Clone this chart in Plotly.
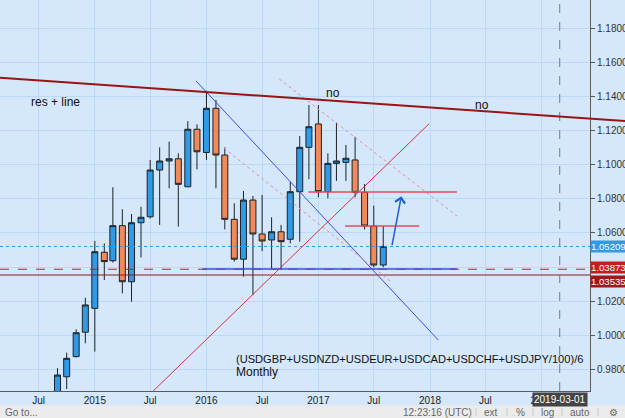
import plotly.graph_objects as go
import pandas as pd

# ---------------- data ----------------
months = pd.date_range("2014-09-01", periods=36, freq="MS")
opens = [0.9620, 0.9757, 0.9875, 1.0018, 1.0158, 1.0487, 1.0437, 1.0643, 1.0314, 1.0660,
         1.0695, 1.0969, 1.1022, 1.1035, 1.0871, 1.1208, 1.1072, 1.1331, 1.1057, 1.0680,
         1.0446, 1.0793, 1.0594, 1.0559, 1.0607, 1.0563, 1.0842, 1.1102, 1.1239, 1.0842,
         1.1008, 1.1014, 1.1028, 1.0838, 1.0641, 1.0412]
highs = [0.9807, 0.9898, 1.0035, 1.0220, 1.0553, 1.0539, 1.0868, 1.0739, 1.0711, 1.0754,
         1.1028, 1.1102, 1.1135, 1.1067, 1.1256, 1.1237, 1.1434, 1.1380, 1.1102, 1.0774,
         1.0846, 1.0817, 1.0823, 1.0692, 1.0647, 1.0900, 1.1168, 1.1350, 1.1350, 1.1067,
         1.1247, 1.1116, 1.1164, 1.0887, 1.0760, 1.0641]
lows = [0.9600, 0.9685, 0.9870, 0.9953, 0.9904, 1.0324, 1.0426, 1.0246, 1.0197, 1.0457,
        1.0684, 1.0647, 1.0862, 1.0637, 1.0868, 1.0973, 1.1028, 1.0862, 1.0621, 1.0432,
        1.0344, 1.0236, 1.0494, 1.0393, 1.0383, 1.0539, 1.0549, 1.0915, 1.0809, 1.0803,
        1.0905, 1.0905, 1.0809, 1.0621, 1.0399, 1.0399]
closes = [0.9767, 0.9865, 1.0015, 1.0178, 1.0490, 1.0432, 1.0643, 1.0314, 1.0660, 1.0692,
          1.0969, 1.1022, 1.1035, 1.0885, 1.1208, 1.1076, 1.1331, 1.1057, 1.0680, 1.0446,
          1.0793, 1.0594, 1.0553, 1.0607, 1.0549, 1.0842, 1.1102, 1.1223, 1.0842, 1.1008,
          1.1022, 1.1038, 1.0838, 1.0641, 1.0412, 1.05209]

last_price = 1.05209
red_dash_price = 1.03873
red_solid_price = 1.03535

y_ticks = [0.96, 0.98, 1.00, 1.02, 1.04, 1.06, 1.08, 1.10, 1.12, 1.14, 1.16, 1.18, 1.20]
x_tickvals = ["2014-07-01", "2015-01-01", "2015-07-01", "2016-01-01", "2016-07-01",
              "2017-01-01", "2017-07-01", "2018-01-01", "2018-07-01", "2019-01-01"]
x_ticktext = ["Jul", "2015", "Jul", "2016", "Jul", "2017", "Jul", "2018", "Jul", "2019"]
cursor_date = "2019-03-01"

x_range = ["2014-02-25", "2019-06-08"]
y_range = [0.96734, 1.19659]

# drawn trend lines: (x0, y0, x1, y1, color, width, dash)
trend_lines = [
    ("2015-11-28", 1.1491, "2018-01-28", 0.99724, "#3b4ee4", 1, "solid"),
    ("2016-08-26", 1.15027, "2018-03-30", 1.06995, "#e98a9c", 1, "dot"),
    ("2016-02-27", 1.10982, "2017-08-29", 1.03107, "#e98a9c", 1, "dot"),
    ("2015-07-11", 0.96734, "2017-12-29", 1.12406, "#d8323c", 1, "solid"),
    ("2016-11-29", 1.0840, "2018-03-30", 1.0840, "#ef4a58", 1.5, "solid"),
    ("2017-03-29", 1.0641, "2017-11-27", 1.0641, "#ef4a58", 1.5, "solid"),
    ("2015-12-18", 1.0389, "2018-03-30", 1.0389, "#3b4ee4", 1.5, "solid"),
]
res_line = ("2014-02-25", 1.15103, "2019-10-01", 1.12565)
arrow = ("2017-08-29", 1.05195, "2017-09-29", 1.0815)

BG = "#d4e7fb"
GRID = "#bcd8f5"
FONT = "Liberation Sans, Arial, sans-serif"

fig = go.Figure()
fig.add_trace(go.Candlestick(
    x=months, open=opens, high=highs, low=lows, close=closes,
    increasing=dict(fillcolor="#2f9ae6", line=dict(color="#1c2326", width=1)),
    decreasing=dict(fillcolor="#f08a5b", line=dict(color="#1c2326", width=1)),
    whiskerwidth=0, showlegend=False, hoverinfo="skip",
))

t0 = pd.Timestamp(x_range[0]).value
t1 = pd.Timestamp(x_range[1]).value


def to_paper(d):
    return (pd.Timestamp(d).value - t0) / (t1 - t0)


shapes = []
# price lines
shapes.append(dict(type="line", xref="paper", yref="y", x0=0, x1=1, y0=last_price, y1=last_price,
                   line=dict(color="#2f9ae6", width=1, dash="dot")))
shapes.append(dict(type="line", xref="paper", yref="y", x0=0, x1=1, y0=red_dash_price, y1=red_dash_price,
                   line=dict(color="#b3262b", width=1, dash="dash")))
shapes.append(dict(type="line", xref="paper", yref="y", x0=0, x1=1, y0=red_solid_price, y1=red_solid_price,
                   line=dict(color="#8e1a1a", width=1.2)))
# vertical cursor line
shapes.append(dict(type="line", xref="x", yref="paper", x0=cursor_date, x1=cursor_date, y0=0, y1=1,
                   line=dict(color="#7a7a7a", width=1, dash="dash")))
for (xa, ya, xb, yb, col, w, dash) in trend_lines:
    shapes.append(dict(type="line", xref="x", yref="y", x0=xa, y0=ya, x1=xb, y1=yb,
                       line=dict(color=col, width=w, dash=dash)))
# resistance line (extends over the price scale)
shapes.append(dict(type="line", xref="paper", yref="y",
                   x0=to_paper(res_line[0]), y0=res_line[1], x1=to_paper(res_line[2]), y1=res_line[3],
                   line=dict(color="#991414", width=2)))

# bottom toolbar
H = 391.0
def py(p):
    return (H - p) / H

shapes.append(dict(type="rect", xref="paper", yref="paper", x0=-0.01, x1=1.07, y0=py(405.5), y1=py(419),
                   fillcolor="#ebebeb", line=dict(width=0), layer="above"))
for sx in [476, 507, 533, 562, 598]:
    shapes.append(dict(type="line", xref="paper", yref="paper", x0=sx / 590, x1=sx / 590,
                       y0=py(408), y1=py(416), line=dict(color="#c9c9c9", width=1), layer="above"))

annotations = []
annotations.append(dict(text="res + line", xref="paper", yref="paper", x=29 / 590, y=py(102),
                        xanchor="left", yanchor="middle", showarrow=False,
                        font=dict(family=FONT, size=12, color="#111")))
annotations.append(dict(text="no", xref="paper", yref="paper", x=333 / 590, y=py(93),
                        xanchor="center", yanchor="middle", showarrow=False,
                        font=dict(family=FONT, size=12, color="#111")))
annotations.append(dict(text="no", xref="paper", yref="paper", x=482 / 590, y=py(105),
                        xanchor="center", yanchor="middle", showarrow=False,
                        font=dict(family=FONT, size=12, color="#111")))
annotations.append(dict(text="(USDGBP+USDNZD+USDEUR+USDCAD+USDCHF+USDJPY/100)/6", xref="paper", yref="paper",
                        x=234 / 590, y=py(358.5), xanchor="left", yanchor="middle", showarrow=False,
                        font=dict(family=FONT, size=11.1, color="#111")))
annotations.append(dict(text="Monthly", xref="paper", yref="paper",
                        x=234 / 590, y=py(371.5), xanchor="left", yanchor="middle", showarrow=False,
                        font=dict(family=FONT, size=12, color="#111")))
# arrow
annotations.append(dict(text="", x=arrow[2], y=arrow[3], ax=arrow[0], ay=arrow[1], xref="x", yref="y",
                        axref="x", ayref="y", showarrow=True, arrowhead=4, arrowsize=1.3,
                        arrowwidth=1.5, arrowcolor="#1f5fd4"))
# price labels on scale
for (val, bg, shift) in [(last_price, "#2f9ae6", 0), (red_dash_price, "#c41d1d", 2), (red_solid_price, "#9b1b1b", -6)]:
    annotations.append(dict(text=f"{val:.5f}", xref="paper", yref="y", x=1.0, y=val, yshift=shift,
                            xanchor="left", yanchor="middle", showarrow=False, bgcolor=bg,
                            borderpad=0, font=dict(family=FONT, size=9.6, color="white")))
# cursor date label
annotations.append(dict(text=cursor_date, xref="x", yref="paper", x=cursor_date, y=py(399.5),
                        xanchor="center", yanchor="middle", showarrow=False, bgcolor="#444444",
                        borderpad=1, font=dict(family=FONT, size=10, color="white")))
# toolbar texts
annotations.append(dict(text="Go to...", xref="paper", yref="paper", x=3 / 590, y=py(412.5),
                        xanchor="left", yanchor="middle", showarrow=False,
                        font=dict(family=FONT, size=10, color="#666")))
for (txt, cx) in [("12:23:16 (UTC)", 437), ("ext", 491), ("%", 520), ("log", 547.5), ("auto", 580), ("\u2699", 613.5)]:
    annotations.append(dict(text=txt, xref="paper", yref="paper", x=cx / 590, y=py(412.5),
                            xanchor="center", yanchor="middle", showarrow=False,
                            font=dict(family=FONT, size=10, color="#666")))

fig.update_layout(
    width=625, height=418,
    margin=dict(l=0, r=35, t=0, b=27, pad=0, autoexpand=False),
    paper_bgcolor=BG, plot_bgcolor=BG,
    font=dict(family=FONT, size=10, color="#333"),
    shapes=shapes, annotations=annotations,
    showlegend=False,
    boxgap=0.0, boxgroupgap=0.3,
    xaxis=dict(type="date", range=x_range, tickvals=x_tickvals, ticktext=x_ticktext,
               showgrid=True, gridcolor=GRID, gridwidth=1, showline=True, linecolor="#5a5a5a",
               linewidth=1, ticks="", zeroline=False, rangeslider=dict(visible=False),
               tickfont=dict(family=FONT, size=10, color="#222"), fixedrange=True, automargin=False),
    yaxis=dict(range=y_range, side="right", tickvals=y_ticks, tickformat=".5f",
               showgrid=True, gridcolor=GRID, gridwidth=1, showline=True, linecolor="#5a5a5a",
               linewidth=1, ticks="outside", ticklen=4, tickcolor="#5a5a5a", zeroline=False,
               tickfont=dict(family=FONT, size=10, color="#333"), fixedrange=True, automargin=False),
)

fig.write_html("out.html")
